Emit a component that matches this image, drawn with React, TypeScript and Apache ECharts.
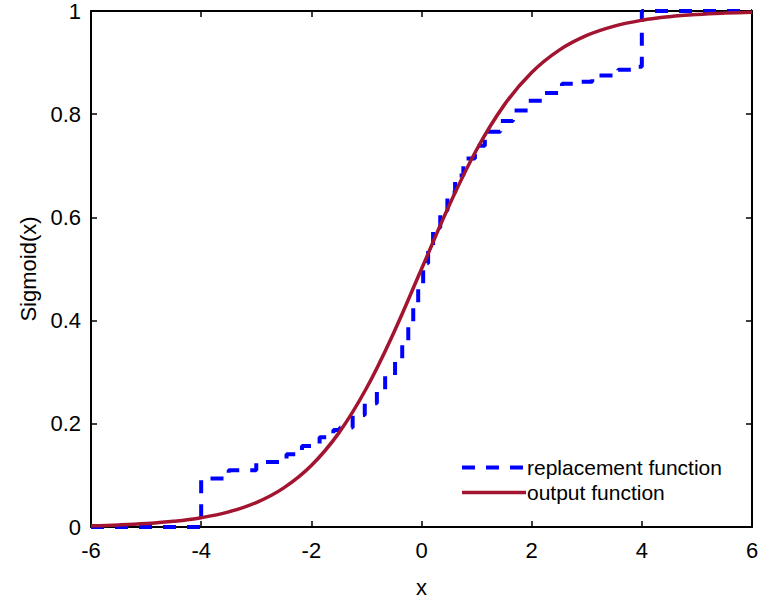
import React, { useEffect, useRef } from "react";
import * as echarts from "echarts";

// output function (sigmoid) read at sample points
const sigX = [-6, -5.5, -5, -4.5, -4, -3.5, -3, -2.5, -2, -1.5, -1, -0.5, 0, 0.5, 1, 1.5, 2, 2.5, 3, 3.5, 4, 4.5, 5, 5.5, 6];
const sigY = [0.0025, 0.0041, 0.0067, 0.011, 0.018, 0.0293, 0.0474, 0.0759, 0.1192, 0.1824, 0.2689, 0.3775, 0.5, 0.6225, 0.7311, 0.8176, 0.8808, 0.9241, 0.9526, 0.9707, 0.982, 0.989, 0.9933, 0.9959, 0.9975];

// replacement function: step breakpoints (value holds from x until next x)
const stepX = [-6, -4, -3.5, -3, -2.45, -2.17, -1.85, -1.6, -1.48, -1.25, -1.03, -0.81, -0.66, -0.48, -0.35, -0.24, -0.15, -0.06, 0.03, 0.12, 0.21, 0.34, 0.47, 0.61, 0.76, 0.97, 1.15, 1.43, 1.66, 1.93, 2.21, 2.55, 2.8, 3.1, 3.57, 3.85, 4, 6];
const stepY = [0, 0.094, 0.11, 0.126, 0.141, 0.157, 0.174, 0.188, 0.193, 0.217, 0.24, 0.265, 0.294, 0.323, 0.358, 0.395, 0.43, 0.468, 0.511, 0.542, 0.58, 0.613, 0.648, 0.681, 0.714, 0.739, 0.766, 0.787, 0.807, 0.826, 0.841, 0.859, 0.863, 0.875, 0.886, 0.892, 1, 1];

const seriesNames = ["replacement function", "output function"];

export default function App() {
  const ref = useRef<HTMLDivElement>(null);
  useEffect(() => {
    if (!ref.current) return;
    const chart = echarts.init(ref.current, null, { renderer: "svg" });
    const font = "'Liberation Sans', Arial, sans-serif";
    const fs = 22;
    const axisCommon = {
      min: 0,
      max: 1,
      interval: 0.2,
    };
    chart.setOption({
      animation: false,
      backgroundColor: "#fff",
      grid: { left: 91, right: 10, top: 10, bottom: 78, containLabel: false },
      legend: {
        data: [
          { name: seriesNames[0], lineStyle: { color: "#0000FF", width: 4, type: [13, 11] } },
          { name: seriesNames[1], lineStyle: { color: "#A2142F", width: 3.5 } },
        ],
        orient: "vertical",
        left: 455,
        top: 452,
        itemWidth: 64,
        itemHeight: 14,
        itemGap: 4,
        itemStyle: { opacity: 0 },
        textStyle: { fontFamily: font, fontSize: 21, color: "#000", padding: [0, 0, 0, -4] },
        backgroundColor: "transparent",
      },
      xAxis: [
        {
          type: "value",
          min: -6,
          max: 6,
          interval: 2,
          position: "bottom",
          name: "x",
          nameLocation: "middle",
          nameGap: 49,
          nameTextStyle: { fontFamily: font, fontSize: fs, color: "#000" },
          axisLine: { onZero: false, lineStyle: { color: "#000", width: 2 } },
          axisTick: { inside: true, length: 6, lineStyle: { color: "#000", width: 1.5 } },
          axisLabel: { fontFamily: font, fontSize: fs, color: "#000", margin: 12 },
          splitLine: { show: false },
        },
        {
          type: "value",
          min: -6,
          max: 6,
          interval: 2,
          position: "top",
          axisLine: { onZero: false, lineStyle: { color: "#000", width: 2 } },
          axisTick: { inside: true, length: 6, lineStyle: { color: "#000", width: 1.5 } },
          axisLabel: { show: false },
          splitLine: { show: false },
        },
      ],
      yAxis: [
        {
          type: "value",
          ...axisCommon,
          position: "left",
          name: "Sigmoid(x)",
          nameLocation: "middle",
          nameGap: 50,
          nameTextStyle: { fontFamily: font, fontSize: fs, color: "#000" },
          axisLine: { onZero: false, lineStyle: { color: "#000", width: 2 } },
          axisTick: { inside: true, length: 6, lineStyle: { color: "#000", width: 1.5 } },
          axisLabel: { fontFamily: font, fontSize: fs, color: "#000", margin: 10 },
          splitLine: { show: false },
        },
        {
          type: "value",
          ...axisCommon,
          position: "right",
          axisLine: { onZero: false, lineStyle: { color: "#000", width: 2 } },
          axisTick: { inside: true, length: 6, lineStyle: { color: "#000", width: 1.5 } },
          axisLabel: { show: false },
          splitLine: { show: false },
        },
      ],
      series: [
        {
          name: seriesNames[0],
          type: "line",
          step: "end",
          symbol: "none",
          data: stepX.map((x, i) => [x, stepY[i]]),
          lineStyle: { color: "#0000FF", width: 4, type: [13, 11] },
          itemStyle: { color: "#0000FF" },
          z: 3,
        },
        {
          name: seriesNames[1],
          type: "line",
          smooth: 0.4,
          symbol: "none",
          data: sigX.map((x, i) => [x, sigY[i]]),
          lineStyle: { color: "#A2142F", width: 3.5 },
          itemStyle: { color: "#A2142F" },
          z: 4,
        },
      ],
    });
    return () => chart.dispose();
  }, []);
  return <div ref={ref} style={{ width: 762, height: 605, position: "absolute", left: 0, top: 0 }} />;
}
